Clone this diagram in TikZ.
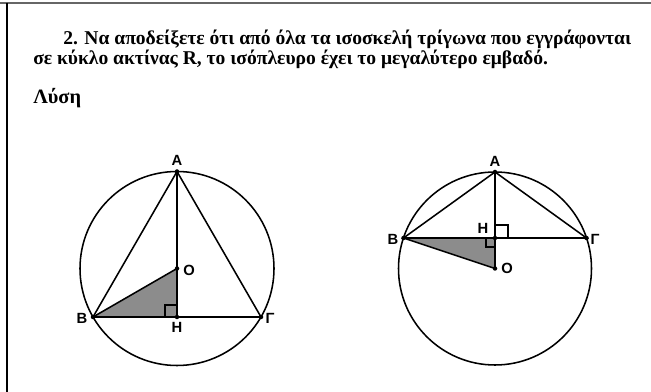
\documentclass[tikz,border=0pt]{standalone}
\usepackage{fontspec}
\setmainfont{Liberation Serif}
\newfontfamily\lblfont{Liberation Sans}
\usetikzlibrary{positioning}

\tikzset{
  pt/.style={circle, fill=black, inner sep=0pt, minimum size=3.2pt},
  lbl/.style={font=\lblfont\bfseries\fontsize{10.5}{12}\selectfont, inner sep=0pt},
  txt/.style={anchor=base west, inner sep=0pt, font=\bfseries\fontsize{13.9}{16}\selectfont},
  fig/.style={line width=1.1pt},
  shade/.style={fill=black!45},
  rt/.style={line width=0.8pt},
}

\begin{document}
\begin{tikzpicture}[x=0.025cm, y=-0.025cm]
\useasboundingbox (0,0) rectangle (651,392);

% page frame
\draw[black!60, line width=1pt] (0,3) -- (651,3);
\draw[line width=0.9pt] (7,3) -- (7,392);

% exercise text
\node[txt] (line1) at (63,45) {2. Να αποδείξετε ότι από όλα τα ισοσκελή τρίγωνα που εγγράφονται};
\node[txt] (line2) at (33,65) {σε κύκλο ακτίνας R, το ισόπλευρο έχει το μεγαλύτερο εμβαδό.};
\node[txt, font=\bfseries\fontsize{14.5}{16}\selectfont] (lysi) at (33,104) {Λύση};

% first figure
\coordinate (O1) at (177,268.5);
\coordinate (A1) at (177,171.5);
\coordinate (H1) at (177,317);
\coordinate (B1) at (93,317);
\coordinate (G1) at (261,317);
\fill[shade] (B1) -- (H1) -- (O1) -- cycle;
\draw[fig] (O1) circle[radius=97];
\draw[fig] (B1) -- (A1) -- (G1) -- cycle;
\draw[fig] (A1) -- (H1);
\draw[fig] (B1) -- (O1);
\draw[rt] (H1) ++(-12,0) -- ++(0,-12) -- ++(12,0);

\node[lbl] (lA1) at (177,160) {A};
\node[lbl] (lB1) at (82,318) {B};
\node[lbl] (lG1) at (270,318) {Γ};
\node[lbl] (lO1) at (189,270) {O};
\node[lbl] (lH1) at (177,327) {H};

% second figure
\coordinate (O2) at (495,268.5);
\coordinate (A2) at (495,172);
\coordinate (H2) at (495,238);
\coordinate (B2) at (403.5,238);
\coordinate (G2) at (586.5,238);
\fill[shade] (B2) -- (H2) -- (O2) -- cycle;
\draw[fig] (O2) circle[radius=96.5];
\draw[fig] (B2) -- (A2) -- (G2) -- cycle;
\draw[fig] (A2) -- (O2);
\draw[fig] (B2) -- (O2);
\draw[rt] (H2) ++(0,-13) -- ++(13,0) -- ++(0,13);
\draw[rt] (H2) ++(-9,0) -- ++(0,9) -- ++(9,0);

\node[lbl] (lA2) at (495,161.5) {A};
\node[lbl] (lB2) at (393,239) {B};
\node[lbl] (lG2) at (595,239) {Γ};
\node[lbl] (lH2) at (483,228) {H};
\node[lbl] (lO2) at (507,268.5) {O};

% points
\foreach \p in {A1,B1,G1,O1,H1,A2,B2,G2,O2,H2}
  \node[pt] (d\p) at (\p) {};

\end{tikzpicture}
\end{document}
